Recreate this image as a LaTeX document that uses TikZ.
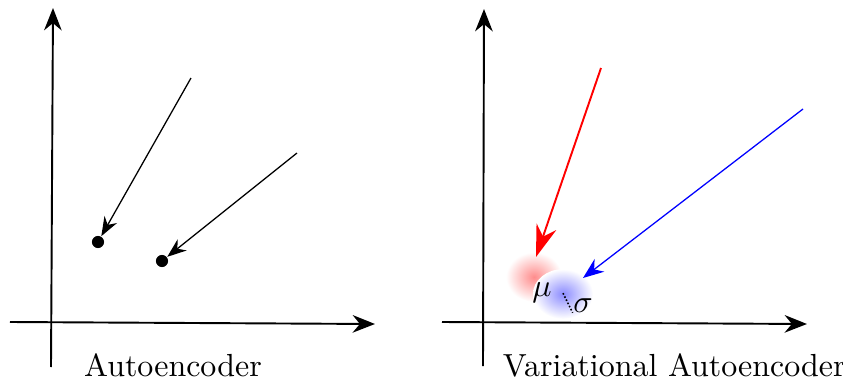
\documentclass[tikz,border=0pt]{standalone}
\usetikzlibrary{arrows.meta}
\begin{document}
\begin{tikzpicture}[x=0.44cm,y=0.44cm]
	\tikzset{axis/.style={semithick,-{Stealth[length=7pt,width=5.5pt]}},
		pt/.style={circle,fill=black,inner sep=0pt,minimum size=3.8pt},
		enc/.style={thin,-{Stealth[length=6pt,width=4.5pt]}}}
	\useasboundingbox (-1.275,-1.45) rectangle (19.8,8.05);
	\def\dx{10.8};
	% left: plain autoencoder
	\coordinate (Ybot) at (0,-1.125);
	\coordinate (Ytop) at (0.05,7.85);
	\coordinate (Xl) at (-1.025,0);
	\coordinate (Xr) at (8.1,-0.05);
	\draw[axis] (Ybot) -- (Ytop);
	\draw[axis] (Xl) -- (Xr);
	\node[pt] (za) at (1.175,2.0) {};
	\node[pt] (zb) at (2.775,1.525) {};
	\coordinate (sa) at (3.5,6.1);
	\coordinate (sb) at (6.15,4.225);
	\draw[enc] (sa) -- (za);
	\draw[enc] (sb) -- (zb);
	\node (lae) at (3.05,-1.08) {Autoencoder};
	% right: variational autoencoder
	\begin{scope}[xshift=\dx*0.44cm]
	\coordinate (vYbot) at (0,-1.1);
	\coordinate (vYtop) at (0.025,7.825);
	\coordinate (vXl) at (-1.025,0);
	\coordinate (vXr) at (8.1,-0.05);
	\draw[axis] (vYbot) -- (vYtop);
	\draw[axis] (vXl) -- (vXr);
	\shade[inner color=red!45,outer color=white] (1.275,1.125) ellipse (0.7 and 0.62);
	\shade[inner color=blue!45,outer color=white] (2.0,0.7) ellipse (0.75 and 0.62);
	\coordinate (mc) at (1.325,1.625);
	\coordinate (sc) at (2.0,0.72);
	\coordinate (vs) at (2.5,1.1);
	\coordinate (rs) at (2.95,6.35);
	\coordinate (bs) at (8.0,5.325);
	\draw[red,semithick,-{Stealth[length=10pt,width=6.5pt]}] (rs) -- (mc);
	\draw[blue,thin,-{Stealth[length=6.5pt,width=5pt]}] (bs) -- (vs);
	\node[inner sep=0pt] (mu) at (1.475,0.72) {$\mu$};
	\node[inner sep=0pt] (sig) at (2.5,0.42) {$\sigma$};
	\draw[line width=0.5pt,dash pattern=on 0.5pt off 0.6pt] (sc) -- (sig.south west);
	\node (lvae) at (4.78,-1.08) {Variational Autoencoder};
	\end{scope}
\end{tikzpicture}
\end{document}
